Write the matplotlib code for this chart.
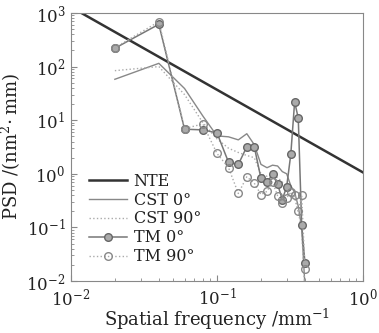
import matplotlib
matplotlib.use("Agg")
import matplotlib.pyplot as plt
from matplotlib.ticker import LogLocator, NullFormatter

plt.rcParams['font.family'] = ['DejaVu Serif']
plt.rcParams['mathtext.fontset'] = 'dejavuserif'

# Data
freq = [0.02, 0.04, 0.06, 0.08, 0.10, 0.12, 0.14, 0.16, 0.18, 0.20,
        0.22, 0.24, 0.26, 0.28, 0.30, 0.32, 0.34, 0.36, 0.38, 0.40]

nte_freq = [0.0118, 1.0]
nte_psd = [1000, 1.06]

cst0 = [58, 115, 39, 12, 5.1, 4.9, 4.3, 5.6, 3.5, 1.5,
        1.3, 1.45, 1.4, 1.1, 1.0, 0.6, 0.45, 0.25, 0.1, 0.008]
cst90 = [84, 100, 30, 9, 4.5, 3.0, 2.5, 2.2, 2.0, 1.0,
         0.9, 0.95, 0.85, 0.7, 0.6, 0.45, 0.35, 0.2, 0.09, 0.006]
tm0 = [220, 615, 6.8, 6.6, 5.8, 1.64, 1.5, 3.2, 3.2, 0.82,
       0.69, 0.98, 0.64, 0.33, 0.58, 2.3, 22, 11, 0.11, 0.022]
tm90 = [225, 690, 7.0, 8.5, 2.4, 1.3, 0.43, 0.88, 0.67, 0.41,
        0.47, 0.70, 0.39, 0.28, 0.36, 0.45, 0.40, 0.20, 0.40, 0.017]

xticks = [1e-2, 1e-1, 1e0]
xtick_labels = [r'$10^{-2}$', r'$10^{-1}$', r'$10^{0}$']
yticks = [1e-2, 1e-1, 1e0, 1e1, 1e2, 1e3]
ytick_labels = [r'$10^{-2}$', r'$10^{-1}$', r'$10^{0}$', r'$10^{1}$', r'$10^{2}$', r'$10^{3}$']

fig = plt.figure(figsize=(3.79, 3.33), dpi=100)
ax = fig.add_axes([0.187, 0.156, 0.771, 0.805])

ax.plot(nte_freq, nte_psd, color='#333333', lw=1.8, label='NTE')
ax.plot(freq, cst0, color='#888888', lw=1.0, label='CST 0°')
ax.plot(freq, cst90, color='#aaaaaa', lw=1.0, ls=':', label='CST 90°')
ax.plot(freq, tm0, color='#777777', lw=1.1, marker='o', ms=5.5,
        mfc='#aaaaaa', mec='#666666', mew=1.0, label='TM 0°')
ax.plot(freq, tm90, color='#aaaaaa', lw=1.0, ls=':', marker='o', ms=5.5,
        mfc='none', mec='#888888', mew=1.0, label='TM 90°')

ax.set_xscale('log')
ax.set_yscale('log')
ax.set_xlim(1e-2, 1e0)
ax.set_ylim(1e-2, 1e3)

ax.set_xticks(xticks)
ax.set_xticklabels(xtick_labels)
ax.set_yticks(yticks)
ax.set_yticklabels(ytick_labels)
ax.xaxis.set_minor_locator(LogLocator(base=10, subs=range(2, 10), numticks=20))
ax.yaxis.set_minor_locator(LogLocator(base=10, subs=range(2, 10), numticks=20))
ax.xaxis.set_minor_formatter(NullFormatter())
ax.yaxis.set_minor_formatter(NullFormatter())

ax.tick_params(which='both', direction='in', colors='#888888', labelcolor='#222222',
               labelsize=12, top=False, right=False)
ax.tick_params(which='major', length=4, pad=4)
ax.tick_params(which='minor', length=2)
ax.tick_params(axis='x', which='major', pad=5)
for s in ax.spines.values():
    s.set_color('#888888')
    s.set_linewidth(0.8)

ax.set_xlabel('Spatial frequency /mm$^{-1}$', fontsize=13, color='#222222', labelpad=-2)
ax.set_ylabel('PSD /(nm$^2\\!\\cdot$mm)', fontsize=13, color='#222222', labelpad=1)
ax.yaxis.set_label_coords(-0.165, 0.5)

leg = ax.legend(loc='lower left', frameon=False, fontsize=11.5, handlelength=2.4,
                handletextpad=0.4, labelspacing=0.12, borderaxespad=0.0,
                bbox_to_anchor=(0.04, 0.035))
for t in leg.get_texts():
    t.set_color('#222222')

fig.savefig('out.png', dpi=100)
